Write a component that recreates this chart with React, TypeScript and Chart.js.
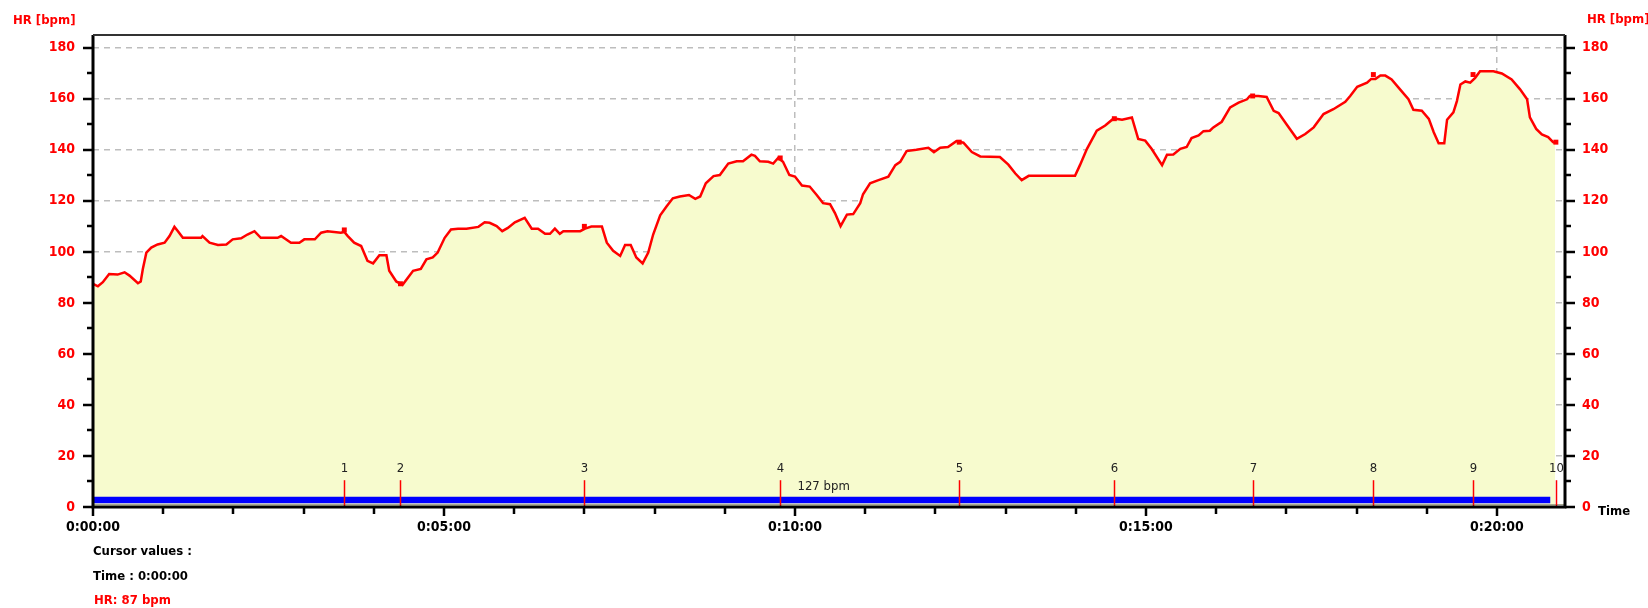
import React, { useEffect, useRef } from 'react';
import { Chart, registerables } from 'chart.js';

Chart.register(...registerables);

// ---- data (time in minutes, heart rate in bpm) ----
const hrTimes = [
  0.0, 0.07, 0.14, 0.23, 0.35, 0.45, 0.52, 0.64, 0.68, 0.71, 0.76, 0.83, 0.92, 1.02, 1.09, 1.16, 1.21, 1.28,
  1.54, 1.56, 1.66, 1.78, 1.9, 1.99, 2.11, 2.2, 2.3, 2.39, 2.63, 2.68, 2.82, 2.94, 3.01, 3.16, 3.25, 3.34,
  3.53, 3.58, 3.63, 3.72, 3.82, 3.91, 3.99, 4.08, 4.18, 4.22, 4.32, 4.41, 4.56, 4.67, 4.75, 4.84, 4.91, 5.01,
  5.1, 5.2, 5.32, 5.49, 5.58, 5.65, 5.75, 5.83, 5.91, 6.01, 6.15, 6.25, 6.34, 6.44, 6.51, 6.58, 6.65, 6.7,
  6.94, 7.01, 7.1, 7.25, 7.32, 7.41, 7.51, 7.58, 7.66, 7.74, 7.83, 7.91, 7.98, 8.08, 8.17, 8.26, 8.36, 8.49,
  8.58, 8.65, 8.73, 8.84, 8.93, 9.05, 9.17, 9.26, 9.38, 9.43, 9.5, 9.62, 9.69, 9.76, 9.83, 9.92, 10.0, 10.1,
  10.21, 10.31, 10.4, 10.5, 10.57, 10.65, 10.74, 10.83, 10.93, 10.97, 11.07, 11.19, 11.33, 11.43, 11.5, 11.59,
  11.73, 11.9, 11.98, 12.07, 12.18, 12.3, 12.4, 12.52, 12.64, 12.92, 13.04, 13.14, 13.23, 13.33, 13.99, 14.06,
  14.16, 14.3, 14.42, 14.54, 14.66, 14.8, 14.89, 14.99, 15.08, 15.23, 15.3, 15.39, 15.49, 15.58, 15.65, 15.75,
  15.82, 15.91, 15.96, 16.08, 16.2, 16.32, 16.44, 16.48, 16.6, 16.72, 16.82, 16.89, 17.01, 17.15, 17.27, 17.39,
  17.53, 17.67, 17.84, 17.91, 18.01, 18.15, 18.21, 18.27, 18.34, 18.41, 18.5, 18.62, 18.74, 18.81, 18.93, 19.03,
  19.1, 19.17, 19.25, 19.29, 19.38, 19.43, 19.48, 19.55, 19.62, 19.69, 19.76, 19.95, 20.07, 20.21, 20.33, 20.43,
  20.47, 20.56, 20.64, 20.73, 20.8, 20.83,
];
const hrValues = [
  87.5, 86.5, 88.1, 91.3, 91.1, 92.0, 90.7, 87.7, 88.4, 93.3, 99.7, 101.7, 102.9, 103.6, 106.2, 109.8, 108.1, 105.5,
  105.5, 106.2, 103.6, 102.7, 102.9, 104.9, 105.3, 106.8, 108.1, 105.5, 105.5, 106.2, 103.6, 103.6, 104.9, 104.9, 107.5, 108.1,
  107.5, 107.8, 106.2, 103.6, 102.3, 96.5, 95.5, 98.7, 98.7, 92.6, 88.4, 87.1, 92.6, 93.3, 97.1, 97.8, 99.7, 105.5,
  108.8, 109.1, 109.1, 109.8, 111.6, 111.4, 110.1, 108.1, 109.4, 111.6, 113.3, 109.1, 109.1, 107.1, 107.1, 109.1, 107.1, 108.1,
  108.1, 109.1, 109.9, 109.9, 103.6, 100.4, 98.4, 102.7, 102.7, 97.8, 95.5, 99.7, 106.8, 114.3, 117.8, 121.0, 121.7, 122.3,
  120.8, 121.7, 126.9, 129.7, 130.1, 134.6, 135.5, 135.5, 138.1, 137.6, 135.5, 135.3, 134.6, 136.8, 135.3, 130.1, 129.5, 126.0,
  125.6, 122.3, 119.1, 118.7, 115.2, 110.1, 114.6, 114.8, 119.1, 122.6, 126.9, 128.1, 129.5, 134.0, 135.3, 139.5,
  140.0, 140.8, 139.1, 140.8, 141.1, 143.4, 142.8, 139.1, 137.4, 137.2, 134.2, 130.7, 128.1, 129.8, 129.8, 134.0,
  140.4, 147.5, 149.5, 152.3, 151.8, 152.7, 144.3, 143.6, 140.4, 134.0, 138.1, 138.2, 140.4, 141.1, 144.6, 145.6,
  147.3, 147.5, 148.8, 151.0, 156.6, 158.5, 159.8, 161.1, 161.1, 160.7, 155.3, 154.4, 149.7, 144.3, 146.2, 148.8,
  154.0, 155.9, 158.8, 161.1, 164.7, 166.3, 167.8, 167.8, 169.1, 169.1, 167.6, 163.7, 159.8, 155.7, 155.3, 152.1,
  146.9, 142.6, 142.6, 151.8, 154.7, 159.1, 165.6, 166.8, 166.3, 168.2, 170.8, 170.8, 169.9, 167.6, 163.7, 159.8,
  152.7, 148.2, 146.0, 145.0, 143.0, 142.8,
];

const lapTimes = [3.58, 4.38, 7.0, 9.79, 12.34, 14.55, 16.52, 18.24, 19.66, 20.84];
const lapLabels = ['1', '2', '3', '4', '5', '6', '7', '8', '9', '10'];
const lapHR = [108.6, 87.5, 110.0, 136.8, 143.0, 152.2, 161.1, 169.5, 169.5, 143.0];

const avgHR = 127;
const avgBarStart = 0;
const avgBarEnd = 20.76;
const avgBarLevel = 2.7;

const xMinutes = [0, 1, 2, 3, 4, 5, 6, 7, 8, 9, 10, 11, 12, 13, 14, 15, 16, 17, 18, 19, 20];
const xLabelledEvery = 5;
const xGridMinutes = [10, 20];
const yTickValues = [0, 10, 20, 30, 40, 50, 60, 70, 80, 90, 100, 110, 120, 130, 140, 150, 160, 170, 180];
const yLabelledEvery = 20;
const xMax = 20.97;
const yMax = 185;

const cursorTime = '0:00:00';
const cursorHR = 87;

const yTitle = 'HR [bpm]';
const xTitle = 'Time';

// ---- styles ----
const FONT = "'DejaVu Sans Condensed', 'Liberation Sans Narrow', 'DejaVu Sans', sans-serif";
const RED = '#ff0000';
const GRID = '#bdbdbd';
const FILL = '#f7fbce';

const fmtTime = (m: number) => `0:${String(Math.round(m)).padStart(2, '0')}:00`;

const overlay = {
  id: 'overlay',
  afterDraw(chart: any) {
    const ctx = chart.ctx as CanvasRenderingContext2D;
    const { left, right, top, bottom } = chart.chartArea;
    const xs = chart.scales.x;
    const ys = chart.scales.y;
    ctx.save();

    // thin grey line just above the time axis
    ctx.strokeStyle = '#a8a890';
    ctx.lineWidth = 1;
    ctx.beginPath();
    ctx.moveTo(left, bottom - 2.5);
    ctx.lineTo(right, bottom - 2.5);
    ctx.stroke();

    // lap markers
    ctx.strokeStyle = RED;
    ctx.lineWidth = 1.5;
    ctx.fillStyle = '#222';
    ctx.font = `13px ${FONT}`;
    ctx.textAlign = 'center';
    ctx.textBaseline = 'middle';
    lapTimes.forEach((t, i) => {
      const px = Math.round(xs.getPixelForValue(t)) + 0.5;
      ctx.beginPath();
      ctx.moveTo(px, ys.getPixelForValue(0));
      ctx.lineTo(px, ys.getPixelForValue(10.5));
      ctx.stroke();
      ctx.fillText(lapLabels[i], px, ys.getPixelForValue(15));
    });

    // average label
    ctx.font = `13px ${FONT}`;
    ctx.fillStyle = '#222';
    ctx.fillText(`${avgHR} bpm`, xs.getPixelForValue((avgBarStart + avgBarEnd) / 2) + 2, ys.getPixelForValue(7.8));

    // frame
    ctx.strokeStyle = '#000';
    ctx.lineWidth = 3;
    ctx.beginPath();
    ctx.moveTo(left, top);
    ctx.lineTo(left, bottom);
    ctx.lineTo(right, bottom);
    ctx.lineTo(right, top);
    ctx.stroke();
    ctx.strokeStyle = '#333';
    ctx.lineWidth = 2;
    ctx.beginPath();
    ctx.moveTo(left, top);
    ctx.lineTo(right, top);
    ctx.stroke();

    // tick marks
    ctx.strokeStyle = '#000';
    ctx.lineWidth = 2.5;
    yTickValues.forEach((v) => {
      const py = Math.round(ys.getPixelForValue(v));
      const len = v % yLabelledEvery === 0 ? 10 : 6;
      ctx.beginPath();
      ctx.moveTo(left - len, py);
      ctx.lineTo(left, py);
      ctx.moveTo(right, py);
      ctx.lineTo(right + len, py);
      ctx.stroke();
    });
    xMinutes.forEach((m) => {
      const px = Math.round(xs.getPixelForValue(m));
      const len = m % xLabelledEvery === 0 ? 9 : 7;
      ctx.beginPath();
      ctx.moveTo(px, bottom);
      ctx.lineTo(px, bottom + len);
      ctx.stroke();
    });

    // titles
    ctx.textAlign = 'left';
    ctx.textBaseline = 'middle';
    ctx.font = `bold 13px ${FONT}`;
    ctx.fillStyle = RED;
    ctx.fillText(yTitle, 13, 21);
    ctx.fillText(yTitle, 1587, 20);
    ctx.fillStyle = '#000';
    ctx.fillText(xTitle, 1598, 512);

    // cursor values
    ctx.fillStyle = '#000';
    ctx.fillText('Cursor values :', left, 552);
    ctx.fillText(`Time : ${cursorTime}`, left, 577);
    ctx.fillStyle = RED;
    ctx.fillText(`HR: ${cursorHR} bpm`, left + 1, 601);

    ctx.restore();
  },
};

export default function App() {
  const canvasRef = useRef<HTMLCanvasElement | null>(null);

  useEffect(() => {
    if (!canvasRef.current) return;
    const tickFont = { family: FONT, size: 14, weight: 'bold' as const };
    const chart = new Chart(canvasRef.current, {
      type: 'line',
      data: {
        datasets: [
          {
            label: 'HR',
            data: hrTimes.map((t, i) => ({ x: t, y: hrValues[i] })),
            borderColor: RED,
            borderWidth: 2.5,
            backgroundColor: FILL,
            fill: 'origin',
            pointRadius: 0,
            tension: 0,
            order: 3,
          },
          {
            label: 'avg',
            data: [
              { x: avgBarStart, y: avgBarLevel },
              { x: avgBarEnd, y: avgBarLevel },
            ],
            borderColor: '#0000ff',
            borderWidth: 6.5,
            borderCapStyle: 'butt',
            fill: false,
            pointRadius: 0,
            order: 2,
          },
          {
            label: 'laps',
            data: lapTimes.map((t, i) => ({ x: t, y: lapHR[i] })),
            showLine: false,
            pointStyle: 'rect',
            pointRadius: 3.5,
            pointBackgroundColor: RED,
            pointBorderWidth: 0,
            order: 1,
          },
        ],
      },
      options: {
        animation: false,
        responsive: false,
        layout: { padding: { top: 35, left: 0, right: 0, bottom: 0 } },
        plugins: { legend: { display: false }, tooltip: { enabled: false } },
        scales: {
          x: {
            type: 'linear',
            min: 0,
            max: xMax,
            afterBuildTicks: (s: any) => {
              s.ticks = xMinutes.map((v) => ({ value: v }));
            },
            afterFit: (s: any) => {
              s.height = 101;
            },
            ticks: {
              autoSkip: false,
              maxRotation: 0,
              padding: 12,
              color: '#000',
              font: tickFont,
              callback: (v: any) => (Number(v) % xLabelledEvery === 0 ? fmtTime(Number(v)) : ''),
            },
            grid: {
              drawTicks: false,
              lineWidth: 1.5,
              color: (c: any) => (c.tick && xGridMinutes.includes(c.tick.value) ? GRID : 'rgba(0,0,0,0)'),
            },
            border: { display: false, dash: [6, 5] },
          },
          y: {
            position: 'left',
            min: 0,
            max: yMax,
            afterBuildTicks: (s: any) => {
              s.ticks = yTickValues.map((v) => ({ value: v }));
            },
            afterFit: (s: any) => {
              s.width = 93;
            },
            ticks: {
              autoSkip: false,
              padding: 18,
              color: RED,
              font: tickFont,
              callback: (v: any) => (Number(v) % yLabelledEvery === 0 ? String(v) : ''),
            },
            grid: {
              drawTicks: false,
              lineWidth: 1.5,
              color: (c: any) =>
                c.tick && c.tick.value % yLabelledEvery === 0 && c.tick.value > 0 ? GRID : 'rgba(0,0,0,0)',
            },
            border: { display: false, dash: [6, 5] },
          },
          y2: {
            position: 'right',
            min: 0,
            max: yMax,
            afterBuildTicks: (s: any) => {
              s.ticks = yTickValues.map((v) => ({ value: v }));
            },
            afterFit: (s: any) => {
              s.width = 83;
            },
            ticks: {
              autoSkip: false,
              padding: 17,
              color: RED,
              font: tickFont,
              callback: (v: any) => (Number(v) % yLabelledEvery === 0 ? String(v) : ''),
            },
            grid: { drawOnChartArea: false, drawTicks: false },
            border: { display: false },
          },
        },
      },
      plugins: [overlay],
    });
    return () => chart.destroy();
  }, []);

  return (
    <div style={{ position: 'fixed', left: 0, top: 0, width: 1648, height: 608, background: '#fff' }}>
      <canvas ref={canvasRef} width={1648} height={608} style={{ display: 'block' }} />
    </div>
  );
}
